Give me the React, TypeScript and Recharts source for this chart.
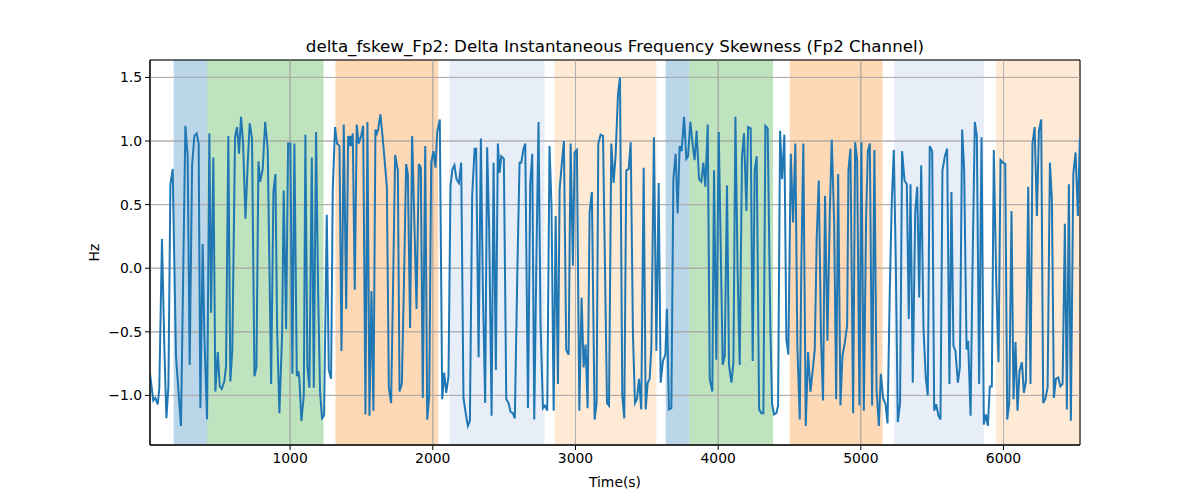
import React from "react"
import { LineChart, Line, XAxis, YAxis, CartesianGrid, ReferenceArea, ReferenceLine } from "recharts"

// time stamps (s) and delta frequency skewness (Hz)
const times = [
  18, 41, 55, 72, 83, 102, 119, 133, 147, 161, 177, 200, 235, 266, 282, 296, 313, 329, 345, 359,
  371, 387, 399, 418, 434, 446, 462, 476, 493, 507, 521, 539, 551, 567, 581, 595, 614, 628, 642, 656,
  670, 687, 703, 717, 733, 750, 764, 778, 790, 808, 825, 843, 867, 883, 897, 909, 925, 944, 955, 972,
  986, 1002, 1016, 1030, 1047, 1058, 1065, 1079, 1096, 1107, 1121, 1135, 1152, 1166, 1182, 1196, 1210, 1224, 1238, 1257,
  1271, 1287, 1299, 1315, 1329, 1346, 1360, 1376, 1393, 1407, 1416, 1423, 1432, 1439, 1453, 1467, 1481, 1498, 1512, 1528,
  1542, 1556, 1570, 1584, 1598, 1608, 1617, 1633, 1654, 1678, 1692, 1708, 1725, 1736, 1755, 1767, 1783, 1797, 1813, 1825,
  1841, 1855, 1872, 1886, 1902, 1916, 1930, 1947, 1961, 1975, 1989, 2005, 2019, 2031, 2049, 2066, 2080, 2094, 2110, 2124,
  2138, 2152, 2166, 2183, 2199, 2215, 2232, 2246, 2260, 2276, 2293, 2304, 2321, 2337, 2351, 2367, 2381, 2395, 2412, 2426,
  2442, 2456, 2468, 2480, 2498, 2515, 2531, 2545, 2561, 2575, 2592, 2608, 2620, 2636, 2648, 2667, 2683, 2697, 2711, 2725,
  2741, 2755, 2772, 2786, 2802, 2818, 2832, 2847, 2861, 2877, 2889, 2905, 2919, 2935, 2952, 2966, 2982, 2994, 3010, 3027,
  3043, 3057, 3071, 3085, 3099, 3115, 3134, 3148, 3160, 3176, 3193, 3221, 3235, 3251, 3267, 3281, 3298, 3312, 3328, 3342,
  3356, 3373, 3387, 3403, 3417, 3431, 3445, 3461, 3478, 3492, 3506, 3520, 3532, 3550, 3567, 3583, 3597, 3613, 3630, 3641,
  3655, 3672, 3686, 3702, 3716, 3730, 3744, 3761, 3777, 3789, 3805, 3824, 3835, 3849, 3866, 3882, 3896, 3910, 3927, 3941,
  3959, 3971, 3987, 4004, 4032, 4046, 4062, 4076, 4093, 4107, 4121, 4137, 4151, 4167, 4181, 4198, 4210, 4228, 4242, 4256,
  4270, 4287, 4303, 4317, 4331, 4347, 4366, 4378, 4392, 4408, 4420, 4434, 4448, 4464, 4478, 4492, 4509, 4525, 4541, 4555,
  4572, 4583, 4597, 4614, 4630, 4647, 4661, 4677, 4691, 4705, 4721, 4735, 4749, 4766, 4782, 4796, 4813, 4827, 4841, 4857,
  4871, 4887, 4904, 4913, 4927, 4946, 4960, 4974, 4990, 5004, 5021, 5037, 5049, 5063, 5079, 5095, 5110, 5126, 5140, 5156,
  5173, 5187, 5203, 5217, 5231, 5245, 5259, 5275, 5289, 5306, 5322, 5336, 5348, 5364, 5381, 5395, 5409, 5423, 5439, 5455,
  5469, 5483, 5500, 5514, 5528, 5544, 5558, 5572, 5589, 5605, 5621, 5635, 5649, 5663, 5680, 5694, 5710, 5724, 5741, 5752,
  5769, 5783, 5799, 5813, 5829, 5846, 5862, 5876, 5890, 5904, 5918, 5932, 5949, 5965, 5979, 5995, 6012, 6026, 6040, 6056,
  6070, 6084, 6098, 6112, 6129, 6143, 6157, 6173, 6189, 6203, 6218, 6234, 6248, 6264, 6278, 6292, 6309, 6325, 6339, 6353,
  6367, 6384, 6398, 6414, 6430, 6444, 6458, 6472, 6489, 6505, 6521, 6535,
]

const hz = [
  -0.83, -1.04, -1.02, -1.07, -0.95, 0.23, -0.64, -1.18, -0.93, 0.66, 0.78, -0.69, -1.24, 1.12, 0.88, -0.76, 0.81, 1.04, 1.06, 0.98,
  -1.1, 0.19, -0.53, -1.19, 1.06, -0.35, 0.87, -0.97, -0.66, -0.93, -0.95, -0.89, -0.77, 1.04, -0.89, -0.64, 1.03, 1.11, 0.9, 1.19,
  0.99, 0.39, 0.83, 1.14, 1.02, -0.85, -0.78, 0.84, 0.68, 0.78, 1.15, 0.94, -0.91, 0.6, 0.74, -0.48, -1.14, -0.51, 0.61, -0.48,
  0.98, 0.98, -0.83, 0.98, -0.85, -0.81, -0.87, -1.2, -1.0, 1.05, -0.77, -0.94, 0.87, -0.94, 1.07, -0.17, -0.98, -1.18, -1.16, 0.42,
  -0.8, -0.87, 0.62, 1.11, 0.98, 0.96, -0.65, 1.13, -0.32, 1.04, 0.96, 1.04, 0.96, 1.06, -0.17, 1.13, 0.98, 1.04, 1.12, -1.15,
  1.15, -1.16, -0.18, -1.12, 1.09, 1.06, 1.09, 1.21, 0.96, 0.64, -0.94, -1.06, 0.1, 0.89, 0.77, -0.97, -0.91, -0.17, 0.82, 0.74,
  -0.47, 1.04, 0.31, -0.32, 0.82, 0.79, -1.02, 0.96, -1.19, -1.0, 0.83, 0.92, 0.79, 1.07, 1.17, -1.03, -0.82, -0.98, -0.85, 0.65,
  0.78, 0.81, 0.7, 0.67, 0.83, -1.02, -1.15, -1.24, -1.2, 0.57, 0.94, 0.94, -0.7, 1.02, -0.17, -1.06, 0.95, 0.31, -1.16, 0.83,
  -0.8, 0.98, 0.75, 0.88, 0.86, -1.03, -1.06, -1.13, -1.14, -1.18, -0.06, 0.83, 0.83, 0.94, 0.98, -1.1, 0.67, 0.9, -1.19, -0.01,
  1.15, -0.43, -1.1, -1.08, -1.12, 0.96, 0.49, -1.12, 0.41, -0.91, 0.62, 0.83, 1.0, -0.64, -0.68, 0.98, 0.02, 0.91, 0.93, -1.12,
  -0.23, -0.78, -0.6, -1.1, 0.44, 0.6, -1.19, -1.06, 0.98, 1.05, 1.04, -1.06, -1.08, 0.98, 0.67, 0.88, 1.37, 1.5, -1.0, -1.18,
  0.77, 0.78, 0.99, -0.53, -1.06, -1.03, -0.87, -1.11, 0.79, -1.11, -0.9, -0.87, -0.61, 1.03, -0.65, 0.67, -0.9, -0.73, -0.68, -0.32,
  -1.11, -1.1, 0.7, 0.9, 0.43, 0.96, 0.92, 1.19, 0.86, 0.88, 1.15, 0.94, 0.85, 1.08, 0.7, 0.68, 0.83, 0.64, 1.13, -0.87,
  -0.97, 0.77, -0.72, 1.07, -0.76, -0.69, 0.65, -0.76, -0.9, -0.74, 1.19, -0.06, -0.76, 0.87, 1.06, 0.45, 1.11, 1.1, -0.73, 0.77,
  0.88, -1.11, -1.14, -1.14, 1.12, 1.1, -0.48, -1.07, -1.15, -1.14, -1.08, 1.08, 0.7, 1.05, -0.56, -0.68, 0.9, 0.36, 0.98, -0.61,
  -1.19, 0.03, 0.98, -1.24, -0.66, -0.97, -0.82, -0.64, 0.25, 0.69, -0.56, -1.04, 0.57, -0.57, 0.41, 1.01, 0.36, -1.03, 0.74, -1.08,
  -0.69, -0.59, -0.45, 0.77, 0.94, -1.14, 0.99, 0.85, -1.08, 0.99, -1.12, 0.4, 0.92, 0.98, -1.08, 0.93, -0.95, -1.24, -0.83, -1.02,
  -1.07, -1.22, -0.17, 0.53, 0.93, 0.04, -1.21, -1.06, 0.92, 0.69, 0.66, -0.4, 0.66, -0.9, 0.44, 0.64, -0.23, 0.81, -0.47, -0.86,
  -1.0, 0.96, 0.92, -1.12, -1.07, -1.16, -1.19, 0.77, 0.88, 0.94, -0.91, 0.6, -0.61, -0.65, -0.9, -0.78, 1.09, 0.78, -0.64, -0.57,
  -1.16, 0.02, 1.15, 1.04, -0.91, 1.03, -1.23, -1.15, -1.24, -0.93, -0.93, 0.93, -0.11, -0.74, 0.85, 0.83, 0.82, -1.19, -1.06, 0.45,
  -1.03, -0.58, -1.12, -0.81, -0.74, -0.98, -0.89, 0.64, -0.91, 0.98, 1.11, 0.41, 1.08, 1.17, -1.06, -1.03, -0.94, 0.83, 0.54, -1.02,
  -0.87, -0.86, -0.93, -0.91, 0.35, -1.11, 0.66, -1.2, 0.74, 0.91, 0.41, 1.02,
]

// shaded stage spans
const spanStarts = [184, 418, 1318, 2117, 2854, 3632, 3796, 4502, 5233, 5946]
const spanEnds = [418, 1234, 2038, 2783, 3567, 3796, 4385, 5152, 5862, 6536]
const spanColors = [
  "#1f77b4", "#2ca02c", "#ff7f0e", "#aec7e8", "#ffbb78",
  "#1f77b4", "#2ca02c", "#ff7f0e", "#aec7e8", "#ffbb78",
]

const xTicks = [1000, 2000, 3000, 4000, 5000, 6000]
const yTicks = [-1.0, -0.5, 0.0, 0.5, 1.0, 1.5]

const X_DOMAIN: [number, number] = [18, 6536]
const Y_DOMAIN: [number, number] = [-1.39, 1.637]

const FONT = "'DejaVu Sans', sans-serif"
const GRID = "#b0b0b0"

const data = times.map((t, i) => ({ t, v: hz[i] }))

const fmtY = (v: number) => v.toFixed(1).replace("-", "\u2212")

export default function App() {
  const tickStyle = { fill: "#000", fontSize: 13.9, fontFamily: FONT }

  return (
    <div style={{ position: "absolute", left: 0, top: 0, width: 1200, height: 500, background: "#fff" }}>
      <div
        style={{
          position: "absolute",
          top: 36,
          left: 150,
          width: 930,
          textAlign: "center",
          fontFamily: FONT,
          fontSize: 16.7,
          lineHeight: "20px",
          color: "#000",
        }}
      >
        delta_fskew_Fp2: Delta Instantaneous Frequency Skewness (Fp2 Channel)
      </div>
      <LineChart width={1200} height={500} data={data} margin={{ top: 60, right: 120, bottom: 10, left: 90 }}>
        <CartesianGrid stroke={GRID} strokeWidth={1} />
        {spanStarts.map((s, i) => (
          <ReferenceArea
            key={`span-${i}`}
            x1={s}
            x2={spanEnds[i]}
            y1={Y_DOMAIN[0]}
            y2={Y_DOMAIN[1]}
            fill={spanColors[i]}
            fillOpacity={0.3}
            stroke="none"
            ifOverflow="hidden"
          />
        ))}
        {/* grid sits above the shaded spans, as in the original */}
        {xTicks.map((x) => (
          <ReferenceLine key={`gx-${x}`} x={x} stroke={GRID} strokeWidth={1} />
        ))}
        {yTicks.map((y) => (
          <ReferenceLine key={`gy-${y}`} y={y} stroke={GRID} strokeWidth={1} />
        ))}
        <XAxis
          dataKey="t"
          type="number"
          domain={X_DOMAIN}
          ticks={xTicks}
          allowDataOverflow
          height={45}
          tickSize={5}
          tickMargin={3}
          tick={tickStyle}
          tickLine={{ stroke: "#000" }}
          axisLine={{ stroke: "#000" }}
          label={{ value: "Time(s)", position: "insideBottom", offset: 3, fill: "#000", fontSize: 13.9, fontFamily: FONT }}
        />
        <YAxis
          type="number"
          domain={Y_DOMAIN}
          ticks={yTicks}
          allowDataOverflow
          width={60}
          tickSize={5}
          tickMargin={3}
          tick={tickStyle}
          tickFormatter={fmtY}
          tickLine={{ stroke: "#000" }}
          axisLine={{ stroke: "#000" }}
          label={{
            value: "Hz",
            angle: -90,
            position: "insideLeft",
            offset: 4,
            fill: "#000",
            fontSize: 13.9,
            fontFamily: FONT,
            style: { textAnchor: "middle" },
          }}
        />
        <Line
          type="linear"
          dataKey="v"
          stroke="#1f77b4"
          strokeWidth={2}
          dot={false}
          activeDot={false}
          isAnimationActive={false}
        />
        <ReferenceArea
          x1={X_DOMAIN[0]}
          x2={X_DOMAIN[1]}
          y1={Y_DOMAIN[0]}
          y2={Y_DOMAIN[1]}
          fill="none"
          stroke="#000"
          strokeWidth={1}
        />
      </LineChart>
    </div>
  )
}
